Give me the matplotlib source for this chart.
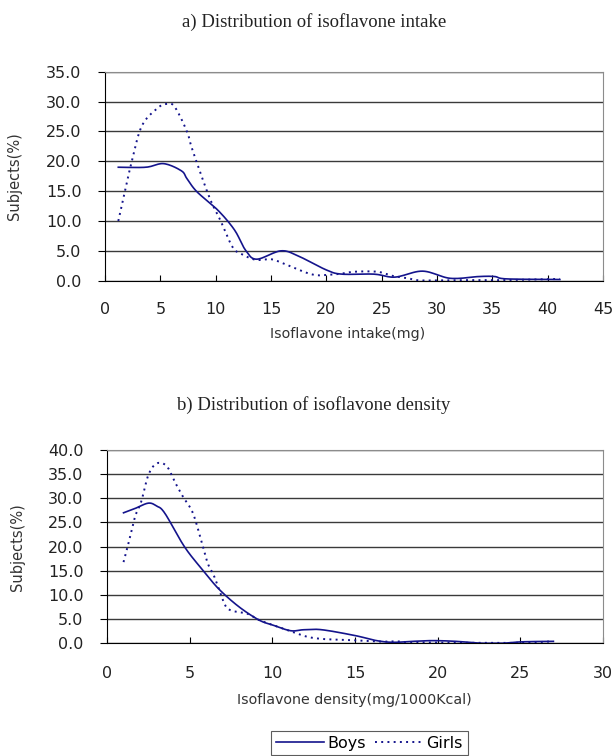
import numpy as np
import matplotlib.pyplot as plt
from matplotlib.lines import Line2D

# a) isoflavone intake (mg) vs subjects (%)
intake_boys_x = [1.2, 3.7, 5.3, 6.9, 7.4, 8.3, 10.2, 11.7, 12.7, 13.7, 15.9, 17.5, 20.0,
                 21.4, 24.3, 26.2, 28.7, 31.2, 33.8, 35.2, 36.3, 41.1]
intake_boys_y = [19.0, 19.0, 19.6, 18.4, 17.1, 14.9, 11.8, 8.5, 5.1, 3.6, 5.0, 4.1, 1.8,
                 1.1, 1.1, 0.6, 1.6, 0.4, 0.7, 0.7, 0.3, 0.2]
intake_girls_x = [1.2, 2.3, 3.3, 4.75, 5.6, 6.3, 7.4, 7.9, 9.4, 10.4, 11.5, 12.2, 13.6, 15.0,
                  16.1, 18.6, 20.0, 21.4, 22.5, 24.6, 26.0, 27.4, 28.5, 32.0, 36.0, 41.1]
intake_girls_y = [10.0, 19.1, 25.8, 28.9, 29.6, 29.1, 25.0, 21.9, 14.1, 10.2, 5.7, 4.6, 3.5, 3.6,
                  2.9, 1.1, 0.95, 1.2, 1.5, 1.5, 0.8, 0.4, 0.05, 0.1, 0.1, 0.3]

# b) isoflavone density (mg/1000Kcal) vs subjects (%)
density_boys_x = [1.0, 1.7, 2.5, 3.0, 3.5, 4.7, 5.9, 6.8, 8.0, 9.2, 10.0, 11.1, 11.9, 13.0,
                  15.0, 16.3, 17.3, 18.5, 19.7, 21.1, 22.7, 23.9, 25.1, 27.0]
density_boys_y = [27.0, 27.9, 29.0, 28.4, 26.9, 19.9, 14.7, 11.1, 7.5, 4.8, 3.8, 2.6, 2.8, 2.8,
                  1.6, 0.55, 0.2, 0.4, 0.55, 0.4, 0.0, 0.0, 0.3, 0.4]
density_girls_x = [1.0, 1.24, 1.7, 2.07, 2.5, 3.0, 3.6, 4.1, 4.6, 5.2, 5.75, 6.1, 6.5, 7.1, 7.5,
                   8.5, 9.2, 10.1, 11.1, 12.05, 13.0, 14.4, 15.4, 16.6, 17.5, 18.5, 22.0, 25.0, 27.0]
density_girls_y = [16.8, 19.9, 26.2, 29.3, 34.8, 37.2, 36.7, 33.4, 30.3, 26.9, 20.6, 16.5, 13.7,
                   8.2, 6.8, 6.1, 4.8, 3.7, 2.5, 1.4, 0.9, 0.7, 0.55, 0.35, 0.4, 0.2, 0.1, 0.1, 0.4]

NAVY = '#14148c'
DOTS = (0, (1.0, 2.2))


def smooth(xs, ys, n=12):
    # catmull-rom curve through the points, like Excel's smoothed line
    x = np.asarray(xs, float)
    y = np.asarray(ys, float)
    px = np.concatenate([[x[0]], x, [x[-1]]])
    py = np.concatenate([[y[0]], y, [y[-1]]])
    outx, outy = [], []
    t = np.linspace(0, 1, n, endpoint=False)
    for i in range(1, len(px) - 2):
        for p, out in ((px, outx), (py, outy)):
            p0, p1, p2, p3 = p[i - 1], p[i], p[i + 1], p[i + 2]
            out.extend(0.5 * (2 * p1 + (-p0 + p2) * t
                              + (2 * p0 - 5 * p1 + 4 * p2 - p3) * t ** 2
                              + (-p0 + 3 * p1 - 3 * p2 + p3) * t ** 3))
    outx.append(x[-1])
    outy.append(y[-1])
    return outx, np.clip(outy, 0, None)


def style_axes(ax, xmax, ymax, xpad):
    ax.set_xlim(0, xmax)
    ax.set_ylim(0, ymax)
    ax.set_xticks(np.arange(0, xmax + 1, 5))
    ax.set_yticks(np.arange(0, ymax + 1, 5))
    ax.set_yticklabels([f'{v:.1f}' for v in np.arange(0, ymax + 1, 5)])
    ax.yaxis.grid(True, color='#3a3a3a', linewidth=1)
    ax.set_axisbelow(True)
    for s in ('top', 'right'):
        ax.spines[s].set_color('#8c8c8c')
    for s in ('left', 'bottom'):
        ax.spines[s].set_color('black')
    ax.tick_params(axis='x', direction='in', length=4, labelsize=11.5, pad=xpad,
                   labelcolor='#222222')
    ax.tick_params(axis='y', direction='out', length=5, labelsize=11.5, pad=12,
                   labelcolor='#222222')
    ax.set_ylabel('Subjects(%)', fontsize=10.5, color='#333333')
    ax.yaxis.set_label_coords(-0.166, 0.5)


fig = plt.figure(figsize=(6.16, 7.56), dpi=100)

ax1 = fig.add_axes([0.1705, 0.6287, 0.8084, 0.2765])
x, y = smooth(intake_boys_x, intake_boys_y)
ax1.plot(x, y, color=NAVY, linewidth=1.2)
x, y = smooth(intake_girls_x, intake_girls_y)
ax1.plot(x, y, color=NAVY, linewidth=1.4, linestyle=DOTS)
style_axes(ax1, 45, 35, 15)

ax2 = fig.add_axes([0.1737, 0.1491, 0.8052, 0.2557])
x, y = smooth(density_boys_x, density_boys_y)
ax2.plot(x, y, color=NAVY, linewidth=1.2)
x, y = smooth(density_girls_x, density_girls_y)
ax2.plot(x, y, color=NAVY, linewidth=1.4, linestyle=DOTS)
style_axes(ax2, 30, 40, 16)

fig.text(0.51, 0.971, 'a) Distribution of isoflavone intake', ha='center', va='center',
         family='Liberation Serif', fontsize=13.5, color='#222222')
fig.text(0.51, 0.464, 'b) Distribution of isoflavone density', ha='center', va='center',
         family='Liberation Serif', fontsize=13.5, color='#222222')
fig.text(0.565, 0.558, 'Isoflavone intake(mg)', ha='center', va='center',
         fontsize=10.3, color='#333333')
fig.text(0.576, 0.074, 'Isoflavone density(mg/1000Kcal)', ha='center', va='center',
         fontsize=10.3, color='#333333')

handles = [Line2D([], [], color=NAVY, linewidth=1.2),
           Line2D([], [], color=NAVY, linewidth=1.4, linestyle=DOTS)]
leg = fig.legend(handles, ['Boys', 'Girls'], ncol=2, loc='center',
                 bbox_to_anchor=(0.6, 0.017), fontsize=11.5, frameon=True,
                 fancybox=False, edgecolor='#333333', handlelength=3.0,
                 handletextpad=0.2, columnspacing=0.6, borderpad=0.3)
leg.get_frame().set_linewidth(0.8)

fig.savefig('out.png', dpi=100)
